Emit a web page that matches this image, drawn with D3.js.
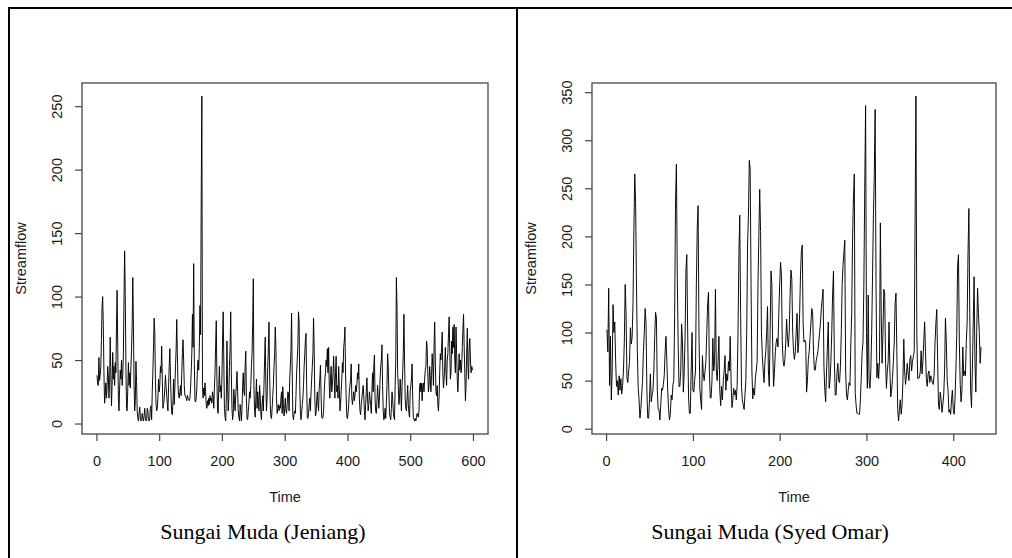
<!DOCTYPE html>
<html>
<head>
<meta charset="utf-8">
<script src="https://cdnjs.cloudflare.com/ajax/libs/d3/7.8.5/d3.min.js"></script>
<style>
    body { margin: 0; background: #ffffff; }
    svg { display: block; }
</style>
</head>
<body>
<script>

// Monthly streamflow, Sungai Muda at Jeniang (600 months)
var jeniangFlow = [
    38, 31, 30, 52, 34, 38, 45, 66, 92, 100, 77, 40,
    16, 22, 32, 20, 28, 45, 38, 20, 30, 68, 40, 14,
    30, 56, 35, 45, 30, 48, 40, 77, 105, 60, 20, 10,
    28, 42, 35, 50, 30, 38, 55, 100, 136, 101, 45, 12,
    10, 28, 48, 30, 40, 28, 45, 58, 78, 115, 77, 30,
    10, 18, 49, 33, 10, 4, 2, 8, 13, 5, 2, 3,
    8, 4, 2, 6, 12, 4, 2, 3, 12, 10, 3, 2,
    4, 12, 14, 3, 25, 42, 60, 83, 72, 35, 15, 10,
    12, 20, 35, 25, 30, 45, 40, 61, 35, 12, 15, 20,
    28, 38, 30, 22, 15, 10, 30, 45, 59, 38, 20, 8,
    7, 18, 35, 15, 28, 45, 58, 82, 55, 30, 22, 20,
    25, 30, 22, 40, 55, 66, 50, 30, 22, 22, 20, 18,
    22, 20, 19, 18, 20, 28, 40, 55, 86, 60, 126, 48,
    18, 17, 20, 28, 45, 50, 42, 60, 93, 70, 178, 258,
    30, 20, 28, 22, 32, 25, 15, 12, 18, 14, 20, 15,
    22, 18, 20, 16, 25, 22, 12, 28, 40, 62, 81, 35,
    10, 8, 30, 45, 25, 30, 20, 35, 65, 88, 50, 12,
    5, 2, 20, 65, 30, 10, 20, 45, 60, 88, 40, 12,
    3, 8, 27, 18, 10, 22, 30, 41, 25, 10, 5, 2,
    15, 10, 2, 12, 30, 40, 25, 22, 45, 57, 20, 4,
    3, 10, 16, 25, 20, 30, 45, 55, 79, 114, 30, 10,
    5, 20, 35, 12, 25, 18, 10, 30, 22, 8, 3, 15,
    22, 10, 30, 50, 68, 30, 10, 20, 45, 60, 80, 40,
    15, 5, 4, 12, 22, 30, 45, 55, 76, 60, 20, 8,
    12, 15, 10, 14, 12, 20, 25, 8, 29, 15, 6, 12,
    20, 10, 8, 15, 25, 24, 10, 35, 45, 58, 87, 40,
    6, 3, 8, 10, 8, 22, 40, 50, 62, 88, 80, 30,
    10, 3, 8, 15, 20, 30, 45, 55, 66, 71, 30, 5,
    4, 8, 15, 20, 10, 25, 35, 45, 55, 83, 60, 20,
    6, 8, 18, 25, 15, 10, 28, 35, 46, 22, 5, 4,
    5, 10, 25, 35, 40, 50, 45, 59, 40, 60, 30, 20,
    35, 45, 25, 30, 40, 53, 35, 20, 40, 53, 25, 30,
    20, 45, 30, 10, 15, 25, 35, 48, 40, 60, 65, 76,
    40, 20, 5, 4, 8, 15, 25, 30, 35, 47, 20, 15,
    20, 25, 18, 22, 30, 25, 30, 40, 35, 47, 20, 10,
    7, 15, 20, 25, 30, 22, 10, 3, 15, 25, 36, 20,
    10, 15, 25, 20, 15, 8, 25, 40, 25, 45, 54, 20,
    10, 8, 18, 30, 22, 12, 20, 35, 45, 50, 62, 30,
    10, 3, 5, 12, 4, 15, 30, 55, 45, 25, 8, 5,
    3, 12, 25, 20, 10, 5, 3, 30, 50, 115, 91, 40,
    30, 15, 20, 35, 25, 10, 30, 40, 56, 86, 50, 20,
    12, 10, 20, 30, 15, 8, 5, 25, 30, 35, 47, 20,
    5, 3, 2, 4, 2, 5, 8, 6, 5, 10, 30, 32,
    25, 32, 18, 30, 32, 25, 35, 42, 45, 65, 60, 40,
    25, 30, 45, 35, 25, 38, 55, 45, 30, 60, 80, 50,
    25, 22, 30, 15, 10, 20, 40, 55, 50, 60, 72, 40,
    28, 35, 45, 60, 40, 30, 50, 55, 70, 84, 60, 35,
    40, 65, 55, 76, 60, 78, 50, 40, 76, 55, 35, 25,
    40, 55, 42, 50, 40, 45, 60, 75, 86, 60, 40, 18,
    30, 55, 75, 45, 35, 60, 67, 50, 40, 45, 43, 42
];

// Monthly streamflow, Sungai Muda at Syed Omar (432 months)
var syedOmarFlow = [
    103, 80, 146, 45, 96, 30, 60, 129, 100, 111, 70, 44,
    50, 35, 55, 40, 52, 36, 45, 60, 90, 150, 120, 53,
    48, 60, 70, 105, 88, 95, 130, 205, 265, 235, 150, 80,
    42, 30, 11, 20, 35, 50, 80, 100, 125, 110, 40, 11,
    11, 30, 57, 28, 35, 40, 60, 95, 121, 115, 40, 20,
    20, 9, 25, 42, 40, 46, 55, 80, 96, 70, 40, 20,
    9, 15, 35, 30, 46, 50, 120, 236, 275, 160, 90, 44,
    44, 60, 109, 90, 38, 60, 95, 165, 181, 100, 33, 16,
    16, 60, 100, 40, 38, 50, 60, 150, 208, 232, 100, 42,
    30, 20, 76, 57, 50, 60, 70, 100, 130, 142, 60, 32,
    32, 50, 94, 60, 70, 145, 60, 50, 70, 96, 40, 24,
    44, 30, 50, 60, 76, 40, 57, 50, 70, 60, 96, 50,
    22, 30, 42, 35, 40, 30, 45, 100, 180, 222, 120, 44,
    30, 25, 20, 35, 50, 100, 190, 222, 279, 270, 150, 60,
    31, 42, 35, 53, 60, 70, 150, 200, 249, 205, 100, 76,
    60, 48, 70, 80, 100, 127, 60, 44, 100, 164, 150, 80,
    44, 60, 80, 90, 94, 85, 120, 150, 173, 160, 90, 70,
    65, 72, 90, 114, 95, 85, 100, 140, 165, 155, 100, 80,
    72, 80, 100, 120, 79, 90, 120, 160, 185, 191, 110, 90,
    92, 90, 38, 50, 72, 80, 95, 110, 125, 120, 80, 61,
    61, 70, 75, 80, 90, 100, 110, 125, 135, 145, 65, 40,
    28, 60, 85, 111, 42, 50, 70, 100, 140, 164, 72, 35,
    35, 57, 68, 50, 48, 65, 100, 150, 170, 183, 196, 60,
    35, 30, 40, 48, 45, 90, 120, 200, 240, 265, 38, 25,
    16, 16, 15, 15, 30, 53, 80, 90, 150, 250, 336, 100,
    42, 139, 50, 42, 59, 100, 160, 222, 264, 332, 150, 53,
    68, 52, 70, 214, 120, 68, 100, 145, 140, 68, 42, 60,
    70, 111, 60, 33, 40, 53, 70, 90, 130, 141, 80, 20,
    8, 20, 30, 15, 25, 50, 93, 60, 46, 55, 68, 57,
    50, 72, 76, 60, 70, 75, 80, 216, 346, 100, 52, 53,
    53, 60, 81, 57, 70, 90, 111, 80, 52, 44, 57, 60,
    48, 55, 52, 48, 46, 57, 90, 110, 124, 70, 24, 20,
    38, 30, 17, 25, 35, 60, 115, 90, 50, 40, 17, 20,
    15, 30, 40, 20, 15, 30, 60, 98, 170, 181, 90, 46,
    28, 40, 85, 55, 60, 55, 90, 110, 183, 229, 120, 40,
    22, 60, 110, 158, 70, 38, 100, 146, 120, 100, 68, 85
];

// Tick values for each panel
var jeniangXTicks = [0, 100, 200, 300, 400, 500, 600];
var jeniangYTicks = [0, 50, 100, 150, 200, 250];
var syedOmarXTicks = [0, 100, 200, 300, 400];
var syedOmarYTicks = [0, 50, 100, 150, 200, 250, 300, 350];

// Texts
var panelTitles = ["Sungai Muda (Jeniang)", "Sungai Muda (Syed Omar)"];
var xAxisLabel = "Time";
var yAxisLabel = "Streamflow";


window.onload = function() {

    var svgWidth = 1012;
    var svgHeight = 558;

    const svg = d3.select("body").append("svg")
        .attr("width", svgWidth)
        .attr("height", svgHeight);

    // Frame lines round the two panels
    svg.append("line")
        .attr("x1", 8).attr("x2", svgWidth).attr("y1", 8).attr("y2", 8)
        .attr("stroke", "#000").attr("stroke-width", 2);
    svg.append("line")
        .attr("x1", 9).attr("x2", 9).attr("y1", 8).attr("y2", svgHeight)
        .attr("stroke", "#000").attr("stroke-width", 2);
    svg.append("line")
        .attr("x1", 517).attr("x2", 517).attr("y1", 8).attr("y2", svgHeight)
        .attr("stroke", "#000").attr("stroke-width", 2);

    // Two time series plots
    tsPlot(svg, jeniangFlow, jeniangXTicks, jeniangYTicks,
        {left: 82, right: 488, top: 83, bottom: 434}, panelTitles[0], 263);
    tsPlot(svg, syedOmarFlow, syedOmarXTicks, syedOmarYTicks,
        {left: 592, right: 996, top: 83, bottom: 434}, panelTitles[1], 770);
};


/*
 * Draws one R style time series plot inside the given box
 */

function tsPlot(svg, flow, xTicks, yTicks, box, title, titleX) {

    var sansFont = "'Liberation Sans', Arial, sans-serif";
    var textColor = "#1a1a1a";

    // Time runs from 1 to n, R pads both ranges by 4%
    var n = flow.length;
    var xPad = (n - 1) * 0.04;
    var yMin = d3.min(flow);
    var yMax = d3.max(flow);
    var yPad = (yMax - yMin) * 0.04;

    const xScale = d3.scaleLinear()
        .domain([1 - xPad, n + xPad])
        .range([box.left, box.right]);

    const yScale = d3.scaleLinear()
        .domain([yMin - yPad, yMax + yPad])
        .range([box.bottom, box.top]);

    // Series line
    var line = d3.line()
        .x(function(d, i) { return xScale(i + 1); })
        .y(function(d) { return yScale(d); });

    svg.append("path")
        .datum(flow)
        .attr("fill", "none")
        .attr("stroke", "#000")
        .attr("stroke-width", 0.95)
        .attr("d", line);

    // Box round the plot region
    svg.append("rect")
        .attr("x", box.left)
        .attr("y", box.top)
        .attr("width", box.right - box.left)
        .attr("height", box.bottom - box.top)
        .attr("fill", "none")
        .attr("stroke", "#444")
        .attr("stroke-width", 1.3);

    // x-axis
    var xAxis = svg.append("g")
        .attr("transform", `translate(0, ${box.bottom})`)
        .call(d3.axisBottom(xScale).tickValues(xTicks).tickSize(7).tickPadding(15));
    xAxis.select(".domain").remove();
    xAxis.selectAll(".tick line").attr("stroke", "#444").attr("stroke-width", 1.2);
    xAxis.selectAll(".tick text")
        .attr("fill", textColor)
        .style("font-family", sansFont)
        .style("font-size", "14.5px");

    // y-axis, labels parallel to the axis as R does
    var yAxis = svg.append("g")
        .attr("transform", `translate(${box.left}, 0)`)
        .call(d3.axisLeft(yScale).tickValues(yTicks).tickSize(7));
    yAxis.select(".domain").remove();
    yAxis.selectAll(".tick line").attr("stroke", "#444").attr("stroke-width", 1.2);
    yAxis.selectAll(".tick text")
        .attr("transform", "rotate(-90)")
        .attr("x", 0)
        .attr("y", -25)
        .attr("dy", "0.35em")
        .attr("text-anchor", "middle")
        .attr("fill", textColor)
        .style("font-family", sansFont)
        .style("font-size", "14.5px");

    // Axis labels
    svg.append("text")
        .attr("x", (box.left + box.right) / 2)
        .attr("y", box.bottom + 68)
        .attr("text-anchor", "middle")
        .attr("fill", textColor)
        .style("font-family", sansFont)
        .style("font-size", "14.5px")
        .text(xAxisLabel);

    svg.append("text")
        .attr("transform", `translate(${box.left - 61}, ${(box.top + box.bottom) / 2}) rotate(-90)`)
        .attr("dy", "0.35em")
        .attr("text-anchor", "middle")
        .attr("fill", textColor)
        .style("font-family", sansFont)
        .style("font-size", "14.5px")
        .text(yAxisLabel);

    // Panel caption
    svg.append("text")
        .attr("x", titleX)
        .attr("y", 539)
        .attr("text-anchor", "middle")
        .attr("fill", "#000")
        .style("font-family", "'Liberation Serif', 'Times New Roman', serif")
        .style("font-size", "22px")
        .text(title);
};

</script>
</body>
</html>
